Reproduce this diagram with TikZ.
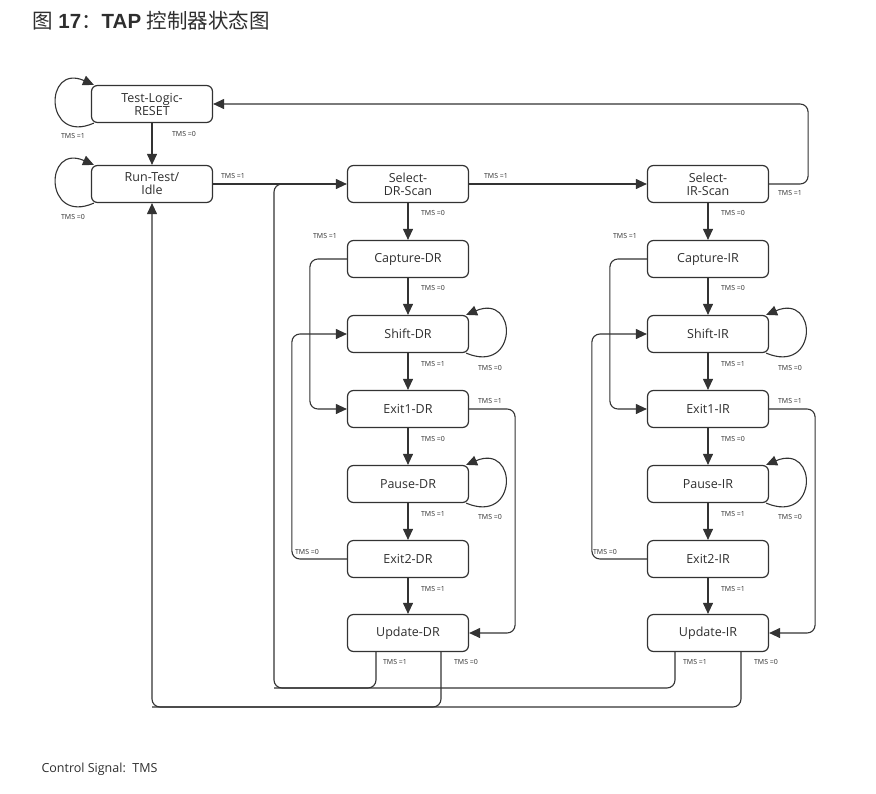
\documentclass[tikz,border=0pt]{standalone}
\usepackage{fontspec}
\setmainfont{Open Sans}
\newfontfamily\titlefont{Liberation Sans}
\newfontfamily\cjk{Noto Sans CJK SC}
\usetikzlibrary{arrows.meta}
\definecolor{linegray}{HTML}{333333}
\definecolor{textgray}{HTML}{2E2E2E}

\tikzset{
	state/.style={draw=linegray,line width=1.2pt,rounded corners=6pt,minimum width=121pt,minimum height=37pt,align=center,text=textgray,font=\fontsize{12.5}{13}\selectfont},
	tms/.style={text=textgray,inner sep=0pt,font=\fontsize{7}{8}\selectfont},
	line/.style={draw=linegray,line width=1.1pt},
	arr/.style={line,-{Triangle[length=11pt,width=10pt]}},
}

\begin{document}
\begin{tikzpicture}[x=1pt,y=-1pt]
	\useasboundingbox (0,0) rectangle (876,793);
	\node [anchor=west,text=textgray,font=\titlefont\fontsize{20.5}{22}\selectfont,inner sep=0pt] (title) at (32,21) {{\cjk 图} \textbf{17}{\cjk ：}\textbf{TAP} {\cjk 控制器状态图}};
	\node [anchor=west,text=textgray,font=\fontsize{12.5}{14}\selectfont] (signal) at (38,769) {Control Signal:\ \ TMS};
	% states
	\node [state] (tlr) at (152,104) {Test-Logic-\\RESET};
	\node [state] (rti) at (152,184) {Run-Test/\\Idle};
	\node [state] (sdr) at (408,184) {Select-\\DR-Scan};
	\node [state] (cdr) at (408,259) {Capture-DR};
	\node [state] (shdr) at (408,334) {Shift-DR};
	\node [state] (e1dr) at (408,409) {Exit1-DR};
	\node [state] (pdr) at (408,484) {Pause-DR};
	\node [state] (e2dr) at (408,559) {Exit2-DR};
	\node [state] (udr) at (408,633) {Update-DR};
	\node [state] (sir) at (708,184) {Select-\\IR-Scan};
	\node [state] (cir) at (708,259) {Capture-IR};
	\node [state] (shir) at (708,334) {Shift-IR};
	\node [state] (e1ir) at (708,409) {Exit1-IR};
	\node [state] (pir) at (708,484) {Pause-IR};
	\node [state] (e2ir) at (708,559) {Exit2-IR};
	\node [state] (uir) at (708,633) {Update-IR};
	\coordinate (join) at (274,184);
	\coordinate (back1) at (274,688);
	\coordinate (back0) at (152,707);
	% top row
	\draw [arr] ([xshift=3pt]tlr.south west) .. controls +(-50,22) and +(-50,-22) .. ([xshift=3pt]tlr.north west);
	\draw [arr] ([xshift=3pt]rti.south west) .. controls +(-50,22) and +(-50,-22) .. ([xshift=3pt]rti.north west);
	\draw [arr] (tlr) -- (rti);
	\draw [arr] (rti) -- (sdr);
	\draw [arr] (sdr) -- (sir);
	\draw [arr,rounded corners=8pt] (sir.east) -- ++(39,0) |- (tlr.east);
	% DR column
	\draw [arr] (sdr) -- (cdr);
	\draw [arr] (cdr) -- (shdr);
	\draw [arr] (shdr) -- (e1dr);
	\draw [arr] (e1dr) -- (pdr);
	\draw [arr] (pdr) -- (e2dr);
	\draw [arr] (e2dr) -- (udr);
	\draw [arr] ([xshift=-3pt]shdr.south east) .. controls +(52,22) and +(52,-22) .. ([xshift=-3pt]shdr.north east);
	\draw [arr] ([xshift=-3pt]pdr.south east) .. controls +(52,22) and +(52,-22) .. ([xshift=-3pt]pdr.north east);
	\draw [arr,rounded corners=8pt] (cdr.west) -- ++(-37,0) |- (e1dr.west);
	\draw [arr,rounded corners=8pt] (e2dr.west) -- ++(-55,0) |- (shdr.west);
	\draw [arr,rounded corners=8pt] (e1dr.east) -- ++(46,0) |- (udr.east);
	\draw [line,rounded corners=8pt] ([xshift=-32pt]udr.south) |- (back1) -- (join) -- ++(30,0);
	\draw [arr,rounded corners=8pt] ([xshift=33pt]udr.south) |- (back0) -- (rti.south);
	% IR column
	\draw [arr] (sir) -- (cir);
	\draw [arr] (cir) -- (shir);
	\draw [arr] (shir) -- (e1ir);
	\draw [arr] (e1ir) -- (pir);
	\draw [arr] (pir) -- (e2ir);
	\draw [arr] (e2ir) -- (uir);
	\draw [arr] ([xshift=-3pt]shir.south east) .. controls +(52,22) and +(52,-22) .. ([xshift=-3pt]shir.north east);
	\draw [arr] ([xshift=-3pt]pir.south east) .. controls +(52,22) and +(52,-22) .. ([xshift=-3pt]pir.north east);
	\draw [arr,rounded corners=8pt] (cir.west) -- ++(-37,0) |- (e1ir.west);
	\draw [arr,rounded corners=8pt] (e2ir.west) -- ++(-55,0) |- (shir.west);
	\draw [arr,rounded corners=8pt] (e1ir.east) -- ++(46,0) |- (uir.east);
	\draw [line,rounded corners=8pt] ([xshift=-33pt]uir.south) |- (back1);
	\draw [line,rounded corners=8pt] ([xshift=33pt]uir.south) |- (back0);
	% labels
	\node [tms] (l1) at (73,136) {TMS =1};
	\node [tms] (l2) at (184,134) {TMS =0};
	\node [tms] (l3) at (73,217) {TMS =0};
	\node [tms] (l4) at (233,176) {TMS =1};
	\node [tms] (l5) at (496,176) {TMS =1};
	\node [tms] (l6) at (790,193) {TMS =1};
	\node [tms] (d1) at (433,213) {TMS =0};
	\node [tms] (d2) at (325,236) {TMS =1};
	\node [tms] (d3) at (433,288) {TMS =0};
	\node [tms] (d4) at (490,368) {TMS =0};
	\node [tms] (d5) at (433,364) {TMS =1};
	\node [tms] (d6) at (490,401) {TMS =1};
	\node [tms] (d7) at (433,439) {TMS =0};
	\node [tms] (d8) at (490,517) {TMS =0};
	\node [tms] (d9) at (433,514) {TMS =1};
	\node [tms] (d10) at (307,552) {TMS =0};
	\node [tms] (d11) at (433,589) {TMS =1};
	\node [tms] (d12) at (395,662) {TMS =1};
	\node [tms] (d13) at (466,662) {TMS =0};
	\node [tms] (i1) at (733,213) {TMS =0};
	\node [tms] (i2) at (625,236) {TMS =1};
	\node [tms] (i3) at (733,288) {TMS =0};
	\node [tms] (i4) at (790,368) {TMS =0};
	\node [tms] (i5) at (733,364) {TMS =1};
	\node [tms] (i6) at (790,401) {TMS =1};
	\node [tms] (i7) at (733,439) {TMS =0};
	\node [tms] (i8) at (790,517) {TMS =0};
	\node [tms] (i9) at (733,514) {TMS =1};
	\node [tms] (i10) at (605,552) {TMS =0};
	\node [tms] (i11) at (733,589) {TMS =1};
	\node [tms] (i12) at (695,662) {TMS =1};
	\node [tms] (i13) at (766,662) {TMS =0};
\end{tikzpicture}
\end{document}
